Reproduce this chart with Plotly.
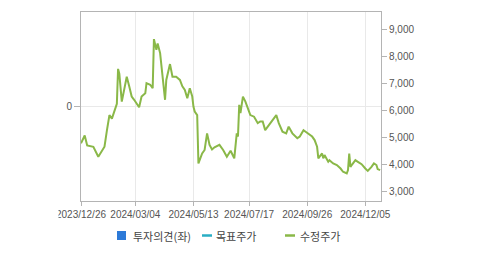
import plotly.graph_objects as go

# trading-day index (0 = 2023/12/26) and adjusted price (수정주가)
day = [0, 3, 5, 10, 14, 17, 19, 21, 23, 25, 27, 29, 30, 31, 33, 37, 39, 41, 43, 47,
       49, 52, 53, 56, 58, 59, 61, 62, 64, 66, 68, 69, 72, 74, 77, 80, 82, 84, 86, 88,
       90, 91, 92, 94, 95, 98, 100, 102, 104, 106, 108, 112, 115, 118, 121, 124, 125, 126, 127, 128,
       129, 131, 133, 135, 137, 140, 143, 145, 147, 149, 152, 154, 158, 160, 163, 166, 168, 171, 175, 177,
       180, 182, 187, 189, 191, 192, 193, 195, 196, 197, 200, 201, 204, 207, 210, 212, 215, 216, 217, 218,
       219, 222, 224, 227, 230, 232, 235, 237, 239, 240, 242]
price = [4780, 5070, 4700, 4650, 4280, 4500, 4650, 5270, 5830, 5700, 6000, 6250, 7550, 7370, 6330, 7260, 6900, 6520, 6400, 6120,
         6520, 6640, 7020, 6960, 6830, 8660, 8260, 8500, 8140, 7260, 6400, 7140, 7730, 7260, 7260, 7140, 6900, 6770, 6460, 6830,
         6520, 6140, 5960, 5830, 4030, 4400, 4530, 5150, 4720, 4550, 4630, 4720, 4530, 4280, 4500, 4220, 4650, 5150, 5030, 6210,
         5900, 6520, 6330, 6090, 5830, 5770, 5530, 5590, 5590, 5270, 5460, 5590, 5830, 5530, 5210, 5150, 5400, 5150, 4970, 5030,
         5270, 5200, 5030, 4900, 4650, 4220, 4280, 4400, 4220, 4340, 4090, 4150, 4030, 3970, 3840, 3720, 3660, 3780, 4400, 3900,
         3970, 4150, 4090, 4000, 3840, 3750, 3900, 4030, 3970, 3820, 3780]

tick_days = [0, 44, 91, 136, 183, 230]
tick_labels = ["2023/12/26", "2024/03/04", "2024/05/13", "2024/07/17", "2024/09/26", "2024/12/05"]
right_ticks = [3000, 4000, 5000, 6000, 7000, 8000, 9000]
legend_names = ["투자의견(좌)", "목표주가", "수정주가"]
legend_colors = ["#2d7ad8", "#2aaec4", "#8ab848"]

W, H = 479, 255
L, R, T, B = 81, 98, 12, 54
pw, ph = W - L - R, H - T - B

def px(x):
    return (x - L) / pw

def py(y):
    return (H - B - y) / ph

fig = go.Figure()
# opinion series (left axis) has no points in this period
fig.add_trace(go.Scatter(x=[None], y=[None], yaxis="y", mode="markers",
                         marker=dict(color=legend_colors[0]), name=legend_names[0], showlegend=False))
fig.add_trace(go.Scatter(x=day, y=price, mode="lines", yaxis="y2",
                         line=dict(color=legend_colors[2], width=2), name=legend_names[2],
                         showlegend=False))

axis_col = "#b4b4b4"
grid_col = "#e9e9e9"
font = dict(family="Liberation Sans, Arial, sans-serif", size=10, color="#555555")

fig.update_layout(
    width=W, height=H, margin=dict(l=L, r=R, t=T, b=B),
    paper_bgcolor="white", plot_bgcolor="white", showlegend=False,
    font=font,
    xaxis=dict(range=[0, 242.7], tickmode="array", tickvals=tick_days, ticktext=tick_labels,
               showgrid=True, gridcolor=grid_col, gridwidth=1, zeroline=False,
               showline=True, linecolor=axis_col, linewidth=1, mirror=True,
               ticks="outside", ticklen=4, tickcolor=axis_col, tickfont=font),
    yaxis=dict(range=[-1, 1], tickmode="array", tickvals=[0], ticktext=["0"],
               showgrid=True, gridcolor=grid_col, zeroline=False,
               showline=True, linecolor=axis_col, linewidth=1,
               ticks="outside", ticklen=6, tickcolor=axis_col, tickfont=font),
    yaxis2=dict(range=[2630, 9670], overlaying="y", side="right", tickmode="array",
                tickvals=right_ticks, tickformat=",d", showgrid=False, zeroline=False,
                showline=True, linecolor=axis_col, linewidth=1,
                ticks="outside", ticklen=5, tickcolor=axis_col, tickfont=font),
)

# crop-like white mask on the left edge (first date label appears cut in the reference)
fig.add_annotation(x=0, y=py(213.5), xref="paper", yref="paper", text=" ", showarrow=False,
                   xanchor="right", yanchor="middle", width=26, height=16, bgcolor="white",
                   borderpad=0, xshift=-(L - 59) + 0)

# custom legend
lf = dict(family="Noto Sans CJK KR, sans-serif", size=11, color="#444444")
fig.add_shape(type="rect", xref="paper", yref="paper", x0=px(117), x1=px(126), y0=py(240), y1=py(231),
              fillcolor=legend_colors[0], line=dict(width=0))
fig.add_annotation(x=px(131), y=py(235.5), xref="paper", yref="paper", text=legend_names[0],
                   showarrow=False, xanchor="left", yanchor="middle", font=lf)
fig.add_shape(type="line", xref="paper", yref="paper", x0=px(202), x1=px(212), y0=py(235.5), y1=py(235.5),
              line=dict(color=legend_colors[1], width=2.5))
fig.add_annotation(x=px(214), y=py(235.5), xref="paper", yref="paper", text=legend_names[1],
                   showarrow=False, xanchor="left", yanchor="middle", font=lf)
fig.add_shape(type="line", xref="paper", yref="paper", x0=px(285), x1=px(295), y0=py(235.5), y1=py(235.5),
              line=dict(color=legend_colors[2], width=2.5))
fig.add_annotation(x=px(298), y=py(235.5), xref="paper", yref="paper", text=legend_names[2],
                   showarrow=False, xanchor="left", yanchor="middle", font=lf)

fig.write_html("out.html")
